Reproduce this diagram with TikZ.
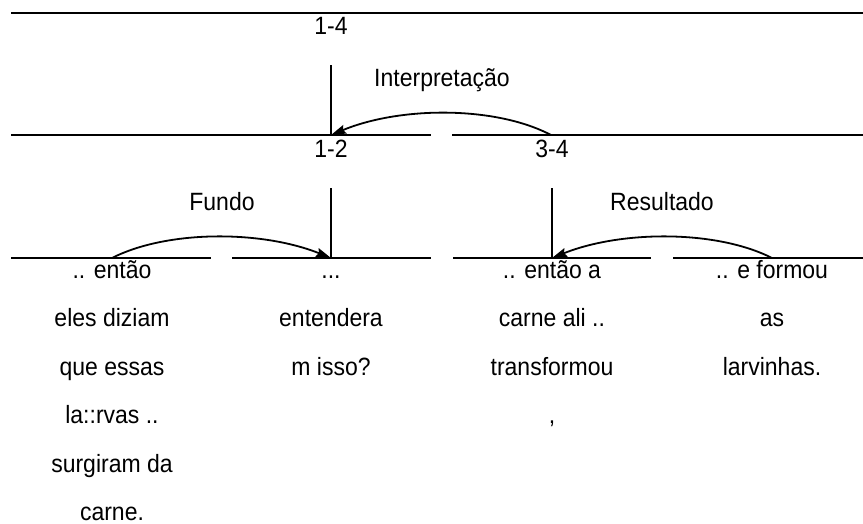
\documentclass[tikz,border=0pt]{standalone}
\usepackage{fontspec}
\setmainfont[FakeStretch=0.92]{Liberation Sans}
\usetikzlibrary{arrows.meta}
\begin{document}
\begin{tikzpicture}[x=1pt,y=-1pt,
  rule/.style={line width=1.8pt},
  stem/.style={line width=1.4pt},
  arc/.style={line width=1.8pt,-{Stealth[length=15pt,width=9pt,inset=2pt]}},
  lbl/.style={anchor=base,inner sep=0pt,font=\fontsize{25}{30}\selectfont},
]
\useasboundingbox (0,0) rectangle (863,523);
% horizontal rules
\draw[rule] (11,13) -- (863,13);
\draw[rule] (11,135) -- (431,135);
\draw[rule] (452,135) -- (863,135);
\draw[rule] (11,258) -- (211,258);
\draw[rule] (232,258) -- (431,258);
\draw[rule] (453,258) -- (651,258);
\draw[rule] (673,258) -- (863,258);
% junction coordinates
\coordinate (t12) at (331,65);
\coordinate (m12) at (331,135);
\coordinate (m34) at (551,135);
\coordinate (u12) at (331,188);
\coordinate (u34) at (552,188);
\coordinate (b1) at (112,258);
\coordinate (b12) at (331,258);
\coordinate (b34) at (552,258);
\coordinate (b4) at (772,258);
% stems
\draw[stem] (t12) -- (m12);
\draw[stem] (u12) -- (b12);
\draw[stem] (u34) -- (b34);
% arcs
\draw[arc] (m34) .. controls +(-55,-29) and +(70,-29) .. (m12);
\draw[arc] (b1) .. controls +(55,-28) and +(-70,-28) .. (b12);
\draw[arc] (b4) .. controls +(-55,-28) and +(70,-28) .. (b34);
% labels
\node[lbl] (l14) at (331,34) {1-4};
\node[lbl] (lint) at (442,86) {Interpretação};
\node[lbl] (l12) at (331,157) {1-2};
\node[lbl] (l34) at (552,157) {3-4};
\node[lbl] (lfun) at (222,210) {Fundo};
\node[lbl] (lres) at (662,210) {Resultado};
% column 1
\node[lbl] (ca1) at (112,278) {.. então};
\node[lbl] (ca2) at (112,326.5) {eles diziam};
\node[lbl] (ca3) at (112,375) {que essas};
\node[lbl] (ca4) at (112,423.5) {la::rvas ..};
\node[lbl] (ca5) at (112,472) {surgiram da};
\node[lbl] (ca6) at (112,520) {carne.};
% column 2
\node[lbl] (cb1) at (331,278) {...};
\node[lbl] (cb2) at (331,326.5) {entendera};
\node[lbl] (cb3) at (331,375) {m isso?};
% column 3
\node[lbl] (cc1) at (552,278) {.. então a};
\node[lbl] (cc2) at (552,326.5) {carne ali ..};
\node[lbl] (cc3) at (552,375) {transformou};
\node[lbl] (cc4) at (552,423.5) {,};
% column 4
\node[lbl] (cd1) at (772,278) {.. e formou};
\node[lbl] (cd2) at (772,326.5) {as};
\node[lbl] (cd3) at (772,375) {larvinhas.};
\end{tikzpicture}
\end{document}
